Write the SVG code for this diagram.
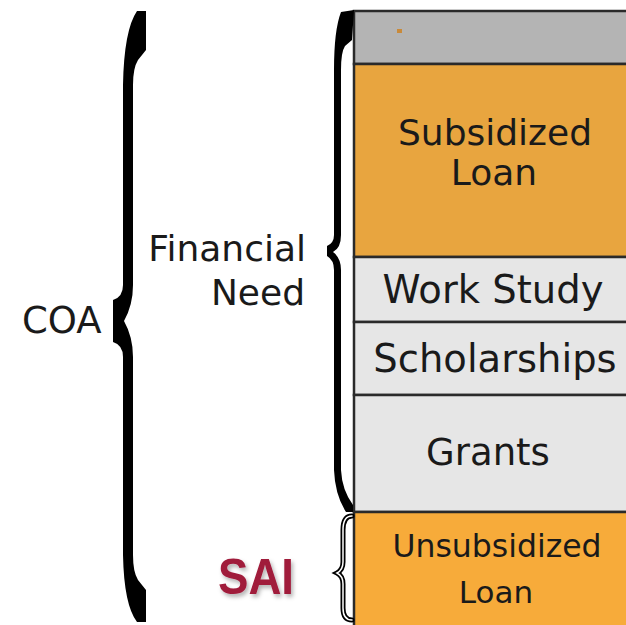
<svg xmlns="http://www.w3.org/2000/svg" width="626" height="625" viewBox="0 0 626 625">
<style>
  .cell{stroke:#2a2a2a;stroke-width:2.5}
  .lbl{font-family:"DejaVu Sans",Verdana,sans-serif;fill:#1a1a1a;text-anchor:middle}
  .side{font-family:"DejaVu Sans",Verdana,sans-serif;fill:#1a1a1a}
  .brace{fill:#000}
</style>
<defs>
  <filter id="sh" x="-20%" y="-20%" width="150%" height="160%">
    <feDropShadow dx="2" dy="3" stdDeviation="2" flood-color="#000" flood-opacity="0.3"/>
  </filter>
</defs>
<rect width="626" height="625" fill="#fff"/>

<g id="cell-top">
  <rect class="cell" x="354" y="11" width="290" height="53" fill="#b4b4b4"/>
  <rect x="397" y="29" width="5" height="4" fill="#c98a3a"/>
</g>
<g id="cell-subsidized">
  <rect class="cell" x="354" y="64" width="290" height="193" fill="#e8a53f"/>
  <text class="lbl" x="495" y="145" font-size="36">Subsidized</text>
  <text class="lbl" x="494" y="185" font-size="36">Loan</text>
</g>
<g id="cell-work">
  <rect class="cell" x="354" y="257" width="290" height="65" fill="#e6e6e6"/>
  <text class="lbl" x="493" y="303" font-size="38.5">Work Study</text>
</g>
<g id="cell-scholarships">
  <rect class="cell" x="354" y="322" width="290" height="73" fill="#e6e6e6"/>
  <text class="lbl" x="495" y="372" font-size="38.5">Scholarships</text>
</g>
<g id="cell-grants">
  <rect class="cell" x="354" y="395" width="290" height="117" fill="#e6e6e6"/>
  <text class="lbl" x="488" y="465" font-size="37">Grants</text>
</g>
<g id="cell-unsubsidized">
  <rect class="cell" x="354" y="512" width="290" height="120" fill="#f7ab3a"/>
  <text class="lbl" x="497" y="557" font-size="31.5">Unsubsidized</text>
  <text class="lbl" x="496" y="603" font-size="31">Loan</text>
</g>

<g id="connectors">
  <path id="brace-coa" class="brace" d="M137,11 L146,11 L146,50 L138,60 Q133,68 133,85 L133,285 Q133,305 124,321 Q133,337 133,357 L133,555 Q133,572 138,580 L146,590 L146,622 L137,622 Q124,605 123,555 L123,357 Q123,345 113,342 L113,300 Q123,297 123,285 L123,85 Q124,30 137,11 Z"/>
  <path id="brace-need" class="brace" d="M341,12 L354,10 L352,40 L345,46 Q341,52 341,70 L341,235 Q341,248 333,252 Q341,258 341,270 L341,470 Q342,490 353,505 L353,512 L346,512 Q335,495 334,470 L334,270 Q334,260 327,256 L327,246 Q334,243 334,235 L334,70 Q334,30 341,12 Z"/>
  <g id="brace-sai" fill="none" stroke-linecap="round">
    <path d="M352,516 Q343,516 343,530 L343,562 Q343,570 337,573 Q343,576 343,584 L343,608 Q343,620 352,620" stroke="#000" stroke-width="5"/>
    <path d="M352,516 Q343,516 343,530 L343,562 Q343,570 337,573 Q343,576 343,584 L343,608 Q343,620 352,620" stroke="#fff" stroke-width="1.5"/>
  </g>
</g>

<g id="label-coa">
  <text class="side" x="22" y="333" font-size="37">COA</text>
</g>
<g id="label-need">
  <text class="side" x="306" y="261" font-size="36" text-anchor="end">Financial</text>
  <text class="side" x="305" y="305" font-size="36" text-anchor="end">Need</text>
</g>
<g id="label-sai">
  <text x="218" y="594" font-family="'Liberation Sans',Arial,sans-serif" font-weight="bold" font-size="50" textLength="76" lengthAdjust="spacingAndGlyphs" fill="#a01a3a" filter="url(#sh)">SAI</text>
</g>
</svg>
